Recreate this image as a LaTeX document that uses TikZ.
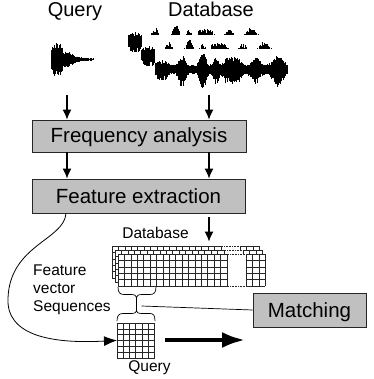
\documentclass[tikz,border=0pt]{standalone}
\usepackage{fontspec}
\setmainfont{Liberation Sans}
\usetikzlibrary{arrows.meta}
\definecolor{boxgray}{RGB}{192,192,192}

% one audio strip: left end x, centre line y
\newcommand\wavestrip[2]{%
  \pgfmathsetseed{4711}%
  \foreach \i in {0,...,189}{%
    \pgfmathsetmacro\xx{0.7*\i}%
    \pgfmathsetmacro\ee{5+5.5*exp(-min(((\xx-7)/6.5)^2,3)^2)+12*exp(-min(((\xx-27)/4)^2,9))+14*exp(-min(((\xx-48)/4)^2,9))+10*exp(-min(((\xx-61)/3)^2,9))+9*exp(-min(((\xx-77)/10)^2,3)^2)+9*exp(-min(((\xx-101)/5)^2,9))+12*exp(-min(((\xx-123)/6)^2,9))}%
    \pgfmathsetmacro\up{0.85*\ee*(0.6+0.4*rnd)}%
    \pgfmathsetmacro\dn{1.1*\ee*(0.6+0.4*rnd)}%
    \draw[wave] (#1+\xx,#2-\up) -- (#1+\xx,#2+\dn);
  }}

% one layer of the feature-vector matrix: top-left corner
\newcommand\dbgrid[2]{%
  \begin{scope}[shift={(#1,#2)}]
    \fill[white] (0,0) rectangle (147.2,32);
    \foreach \r in {0,...,5} \draw[gridln] (0,\r*6.4) -- (108.8,\r*6.4);
    \foreach \c in {0,...,17} \draw[gridln] (\c*6.4,0) -- (\c*6.4,32);
    \foreach \r in {0,...,5} \draw[gridln] (128,\r*6.4) -- (147.2,\r*6.4);
    \foreach \c in {20,...,23} \draw[gridln] (\c*6.4,0) -- (\c*6.4,32);
    \draw[gridln, densely dotted] (108.8,0) -- (128,0) (108.8,32) -- (128,32);
  \end{scope}}

\begin{document}
\begin{tikzpicture}[x=1pt,y=-1pt,
  wave/.style={line width=0.9pt, black},
  box/.style={draw=black!85, fill=boxgray, line width=0.9pt, inner sep=0pt,
    font=\fontsize{20.5}{24}\selectfont, text height=15pt, text depth=1pt},
  big/.style={inner sep=0pt, font=\fontsize{20}{22}\selectfont},
  small/.style={inner sep=0pt, font=\fontsize{15.5}{18}\selectfont},
  flow/.style={line width=1.1pt, -{Latex[length=10pt,width=9pt]}},
  gridln/.style={line width=0.6pt, black!85},
  thinln/.style={line width=0.7pt}]
\useasboundingbox (0,0) rectangle (373,379);

% titles
\node[big, anchor=base] (qtitle) at (75,17) {Query};
\node[big, anchor=base] (dtitle) at (211,17) {Database};

% query recording
\pgfmathsetseed{815}
\foreach \i in {0,...,61}{%
  \pgfmathsetmacro\xx{0.7*\i}%
  \pgfmathsetmacro\ee{12*exp(-min(((\xx-5.5)/6.5)^2,3)^2)+4*exp(-min(((\xx-17)/6)^2,9))+5*(1-\xx/55)}%
  \pgfmathsetmacro\up{\ee*(0.65+0.35*rnd)}%
  \pgfmathsetmacro\dn{\ee*(0.65+0.35*rnd)}%
  \draw[wave] (51+\xx,59.5-\up) -- (51+\xx,59.5+\dn);
}

% database recordings, stacked
\wavestrip{128}{41}
\fill[white] (141.5,35.5) rectangle (280,82);
\wavestrip{141.5}{55}
\fill[white] (155,49) rectangle (292,96);
\wavestrip{155}{69}

% processing chain
\coordinate (qa) at (67,95);
\coordinate (da) at (209,95);
\node[box, minimum width=214pt, minimum height=32pt] (fa) at (139,136) {Frequency analysis};
\node[box, minimum width=213pt, minimum height=34pt] (fe) at (138.5,196) {Feature extraction};
\draw[flow] (qa) -- (qa |- fa.north);
\draw[flow] (da) -- (da |- fa.north);
\draw[flow] (fa.south -| qa) -- (fe.north -| qa);
\draw[flow] (fa.south -| da) -- (fe.north -| da);
\coordinate (dbtip) at (209,241.5);
\draw[flow, shorten <=4pt] (fe.south -| da) -- (dbtip);

% database feature matrices
\node[small, anchor=base] (dblabel) at (155.5,238.3) {Database};
\dbgrid{112}{246}
\dbgrid{115}{250}
\dbgrid{118}{254}

% query feature matrix
\node[draw=black!85, line width=0.6pt, minimum width=37.2pt, minimum height=34.8pt,
  inner sep=0pt, outer sep=0pt, anchor=north west] (qgrid) at (117,323) {};
\foreach \k in {1,...,5}{%
  \draw[gridln] ([xshift=\k*6.2pt]qgrid.north west) -- ([xshift=\k*6.2pt]qgrid.south west);
  \draw[gridln] ([yshift=-\k*5.8pt]qgrid.north west) -- ([yshift=-\k*5.8pt]qgrid.north east);
}
\node[small, anchor=base] (qlabel) at (149.5,371) {Query};

% side labels
\node[small, anchor=base west] (fv1) at (33,275) {Feature};
\node[small, anchor=base west] (fv2) at (33,293.3) {vector};
\node[small, anchor=base west] (fv3) at (33,311.7) {Sequences};

% braces joining the windows
\draw[thinln] (118,287) .. controls (118,292.5) and (120,294.5) .. (124,294.5) -- (131,294.5)
  .. controls (134.5,294.5) and (136.5,295.5) .. (136.5,297.5)
  .. controls (136.5,295.5) and (138.5,294.5) .. (142,294.5) -- (150,294.5)
  .. controls (154,294.5) and (156,292.5) .. (156,287);
\draw[thinln] (136.5,297.5) -- (136.5,311);
\draw[thinln] (117,321) .. controls (117,315.5) and (119,313.5) .. (123,313.5) -- (131,313.5)
  .. controls (134.5,313.5) and (136.5,312.5) .. (136.5,311)
  .. controls (136.5,312.5) and (138.5,313.5) .. (142,313.5) -- (150,313.5)
  .. controls (153.5,313.5) and (155,315.5) .. (155,321);

% matching
\node[box, minimum width=113pt, minimum height=34pt] (match) at (309.5,310) {Matching};
\coordinate (lk) at (141.5,306);
\draw[thinln] (lk) -- (match.west);

% query path and sliding direction
\coordinate (cv) at (66,213);
\draw[line width=0.8pt, -{Latex[length=13pt,width=10pt]}] (fe.south -| cv)
  .. controls (64,240) and (10,245) .. (8,298)
  .. controls (6,335) and (50,344) .. (qgrid.west);
\coordinate (ba) at (165,340);
\coordinate (bb) at (245,340);
\draw[line width=4pt, -{Latex[length=23pt,width=16pt]}] (ba) -- (bb);
\end{tikzpicture}
\end{document}
